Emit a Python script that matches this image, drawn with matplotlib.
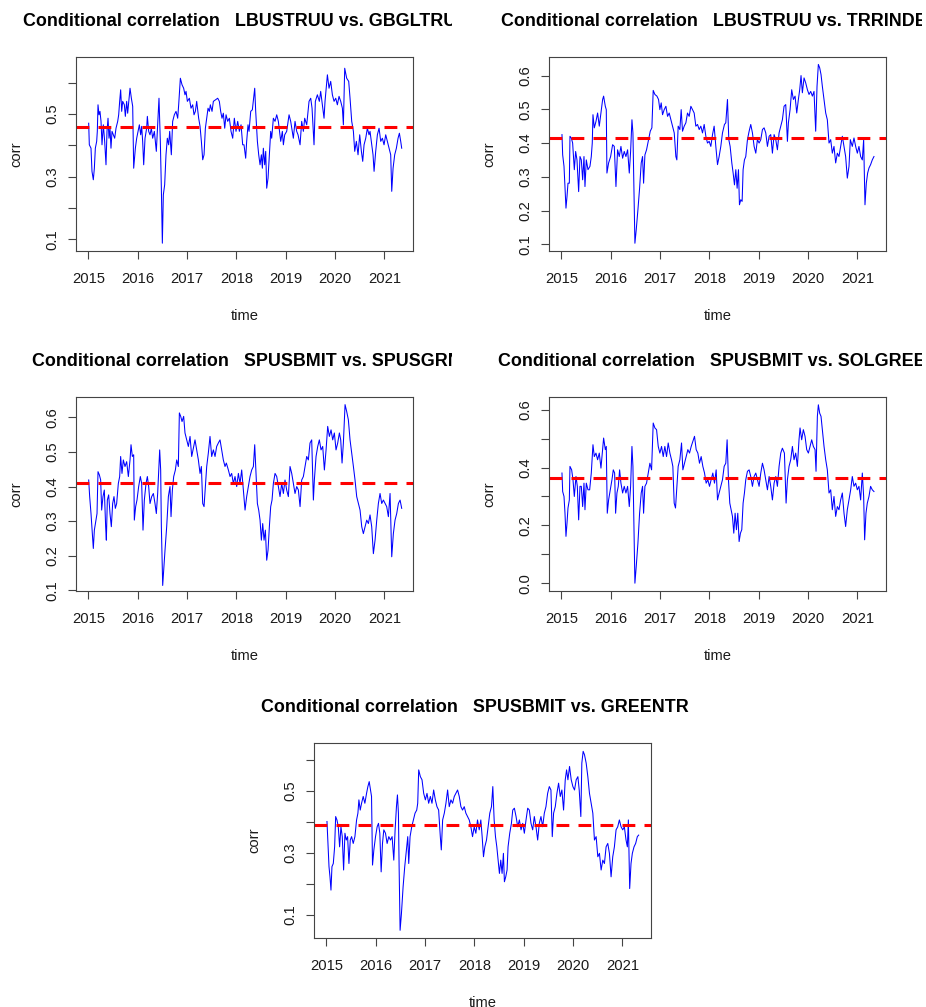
import numpy as np
import matplotlib
matplotlib.use("Agg")
import matplotlib.pyplot as plt
from matplotlib.transforms import Bbox, ScaledTranslation

plt.rcParams['font.family'] = ['Liberation Sans', 'DejaVu Sans']

# ---------------- data ----------------
titles = [
    "Conditional correlation   LBUSTRUU vs. GBGLTRUU",
    "Conditional correlation   LBUSTRUU vs. TRRINDEX",
    "Conditional correlation   SPUSBMIT vs. SPUSGRN",
    "Conditional correlation   SPUSBMIT vs. SOLGREEN",
    "Conditional correlation   SPUSBMIT vs. GREENTR",
]

# panel 1: LBUSTRUU vs. GBGLTRUU (decimal years, correlation)
time_lbus_gbgl = [
    2015.007, 2015.020, 2015.054, 2015.074, 2015.101, 2015.122, 2015.142, 2015.169, 2015.182, 2015.196,
    2015.216, 2015.236, 2015.257, 2015.277, 2015.304, 2015.331, 2015.358, 2015.378, 2015.399, 2015.419,
    2015.439, 2015.459, 2015.480, 2015.507, 2015.534, 2015.561, 2015.595, 2015.615, 2015.635, 2015.655,
    2015.676, 2015.696, 2015.730, 2015.750, 2015.777, 2015.797, 2015.845, 2015.872, 2015.899, 2015.919,
    2015.953, 2015.980, 2016.007, 2016.034, 2016.061, 2016.081, 2016.101, 2016.122, 2016.149, 2016.182,
    2016.196, 2016.223, 2016.250, 2016.277, 2016.304, 2016.338, 2016.358, 2016.378, 2016.399, 2016.432,
    2016.459, 2016.480, 2016.500, 2016.520, 2016.547, 2016.574, 2016.601, 2016.628, 2016.649, 2016.682,
    2016.709, 2016.743, 2016.777, 2016.811, 2016.831, 2016.865, 2016.899, 2016.932, 2016.959, 2016.980,
    2017.007, 2017.047, 2017.081, 2017.115, 2017.142, 2017.169, 2017.196, 2017.236, 2017.264, 2017.291,
    2017.318, 2017.345, 2017.372, 2017.399, 2017.426, 2017.453, 2017.473, 2017.507, 2017.534, 2017.622,
    2017.655, 2017.682, 2017.709, 2017.736, 2017.764, 2017.791, 2017.824, 2017.858, 2017.892, 2017.926,
    2017.959, 2017.993, 2018.027, 2018.061, 2018.095, 2018.128, 2018.155, 2018.189, 2018.209, 2018.236,
    2018.257, 2018.291, 2018.324, 2018.372, 2018.392, 2018.426, 2018.453, 2018.480, 2018.507, 2018.527,
    2018.547, 2018.574, 2018.595, 2018.615, 2018.642, 2018.669, 2018.696, 2018.716, 2018.750, 2018.784,
    2018.818, 2018.851, 2018.899, 2018.932, 2018.953, 2018.980, 2019.020, 2019.068, 2019.101, 2019.155,
    2019.189, 2019.223, 2019.250, 2019.291, 2019.324, 2019.358, 2019.385, 2019.426, 2019.473, 2019.507,
    2019.534, 2019.574, 2019.601, 2019.642, 2019.682, 2019.709, 2019.777, 2019.797, 2019.845, 2019.878,
    2019.912, 2019.946, 2019.980, 2020.014, 2020.047, 2020.081, 2020.115, 2020.149, 2020.169, 2020.196,
    2020.236, 2020.277, 2020.304, 2020.338, 2020.372, 2020.399, 2020.432, 2020.466, 2020.500, 2020.534,
    2020.561, 2020.588, 2020.622, 2020.655, 2020.689, 2020.709, 2020.743, 2020.770, 2020.791, 2020.824,
    2020.858, 2020.892, 2020.926, 2020.959, 2020.993, 2021.027, 2021.061, 2021.095, 2021.128, 2021.149,
    2021.176, 2021.209, 2021.243, 2021.277, 2021.304, 2021.331, 2021.351,
]
corr_lbus_gbgl = [
    0.471, 0.402, 0.391, 0.317, 0.290, 0.327, 0.391, 0.413, 0.445, 0.530,
    0.498, 0.509, 0.477, 0.402, 0.466, 0.413, 0.338, 0.445, 0.487, 0.423,
    0.455, 0.391, 0.445, 0.434, 0.423, 0.455, 0.477, 0.498, 0.541, 0.578,
    0.509, 0.541, 0.530, 0.493, 0.541, 0.503, 0.583, 0.551, 0.525, 0.327,
    0.391, 0.423, 0.445, 0.466, 0.434, 0.461, 0.413, 0.338, 0.423, 0.455,
    0.493, 0.445, 0.434, 0.455, 0.423, 0.445, 0.413, 0.381, 0.445, 0.551,
    0.413, 0.263, 0.087, 0.242, 0.274, 0.370, 0.423, 0.402, 0.445, 0.370,
    0.477, 0.498, 0.509, 0.487, 0.530, 0.615, 0.594, 0.583, 0.562, 0.573,
    0.541, 0.551, 0.519, 0.530, 0.498, 0.509, 0.541, 0.487, 0.461, 0.413,
    0.354, 0.370, 0.455, 0.487, 0.519, 0.509, 0.530, 0.509, 0.541, 0.551,
    0.541, 0.509, 0.487, 0.503, 0.455, 0.498, 0.477, 0.487, 0.445, 0.423,
    0.487, 0.445, 0.477, 0.445, 0.466, 0.402, 0.402, 0.359, 0.413, 0.466,
    0.445, 0.509, 0.514, 0.583, 0.509, 0.413, 0.370, 0.338, 0.370, 0.327,
    0.391, 0.338, 0.381, 0.263, 0.295, 0.370, 0.445, 0.423, 0.487, 0.477,
    0.498, 0.477, 0.413, 0.445, 0.402, 0.434, 0.445, 0.498, 0.477, 0.423,
    0.477, 0.445, 0.434, 0.402, 0.477, 0.445, 0.487, 0.466, 0.541, 0.551,
    0.519, 0.402, 0.541, 0.562, 0.541, 0.573, 0.487, 0.541, 0.626, 0.583,
    0.605, 0.562, 0.541, 0.551, 0.530, 0.557, 0.541, 0.519, 0.466, 0.647,
    0.615, 0.605, 0.551, 0.477, 0.445, 0.381, 0.413, 0.370, 0.434, 0.381,
    0.349, 0.402, 0.423, 0.455, 0.434, 0.445, 0.402, 0.370, 0.317, 0.381,
    0.434, 0.455, 0.413, 0.423, 0.402, 0.434, 0.413, 0.391, 0.370, 0.253,
    0.327, 0.370, 0.391, 0.423, 0.439, 0.413, 0.391,
]

# panels 2-5: (decimal year, correlation) readings
pts_lbus_trr = [
    (2015.013, 0.425), (2015.027, 0.365), (2015.054, 0.331), (2015.074, 0.271), (2015.094, 0.207),
    (2015.115, 0.242), (2015.135, 0.281), (2015.162, 0.281), (2015.175, 0.420), (2015.202, 0.415),
    (2015.229, 0.400), (2015.263, 0.321), (2015.290, 0.375), (2015.317, 0.350), (2015.351, 0.256),
    (2015.378, 0.360), (2015.405, 0.350), (2015.432, 0.291), (2015.459, 0.360), (2015.479, 0.271),
    (2015.506, 0.350), (2015.540, 0.321), (2015.580, 0.331), (2015.607, 0.360), (2015.627, 0.400),
    (2015.641, 0.484), (2015.668, 0.445), (2015.702, 0.464), (2015.735, 0.489), (2015.769, 0.450),
    (2015.803, 0.489), (2015.837, 0.529), (2015.857, 0.539), (2015.891, 0.509), (2015.911, 0.499),
    (2015.924, 0.311), (2015.958, 0.341), (2015.999, 0.360), (2016.039, 0.395), (2016.073, 0.390),
    (2016.107, 0.271), (2016.140, 0.380), (2016.174, 0.360), (2016.208, 0.390), (2016.242, 0.355),
    (2016.275, 0.375), (2016.309, 0.360), (2016.343, 0.380), (2016.377, 0.311), (2016.404, 0.375),
    (2016.431, 0.469), (2016.451, 0.430), (2016.471, 0.271), (2016.491, 0.103), (2016.518, 0.143),
    (2016.552, 0.202), (2016.586, 0.266), (2016.619, 0.341), (2016.646, 0.360), (2016.667, 0.281),
    (2016.694, 0.365), (2016.727, 0.380), (2016.768, 0.410), (2016.802, 0.435), (2016.835, 0.445),
    (2016.862, 0.556), (2016.896, 0.544), (2016.937, 0.539), (2016.970, 0.529), (2016.997, 0.499),
    (2017.024, 0.519), (2017.051, 0.484), (2017.085, 0.499), (2017.119, 0.509), (2017.153, 0.479),
    (2017.186, 0.489), (2017.220, 0.469), (2017.254, 0.450), (2017.288, 0.430), (2017.321, 0.360),
    (2017.341, 0.350), (2017.368, 0.450), (2017.402, 0.440), (2017.429, 0.499), (2017.456, 0.435),
    (2017.490, 0.450), (2017.524, 0.460), (2017.557, 0.489), (2017.591, 0.479), (2017.625, 0.509),
    (2017.658, 0.499), (2017.692, 0.489), (2017.726, 0.450), (2017.760, 0.455), (2017.794, 0.440),
    (2017.827, 0.450), (2017.861, 0.430), (2017.895, 0.455), (2017.929, 0.420), (2017.962, 0.400),
    (2017.996, 0.405), (2018.030, 0.390), (2018.064, 0.425), (2018.097, 0.450), (2018.131, 0.390),
    (2018.165, 0.336), (2018.198, 0.360), (2018.232, 0.390), (2018.266, 0.430), (2018.306, 0.455),
    (2018.333, 0.460), (2018.367, 0.529), (2018.394, 0.410), (2018.421, 0.390), (2018.455, 0.341),
    (2018.482, 0.311), (2018.509, 0.276), (2018.536, 0.321), (2018.563, 0.266), (2018.590, 0.321),
    (2018.610, 0.217), (2018.637, 0.232), (2018.664, 0.227), (2018.684, 0.321), (2018.711, 0.350),
    (2018.738, 0.360), (2018.772, 0.410), (2018.806, 0.435), (2018.839, 0.455), (2018.873, 0.430),
    (2018.907, 0.390), (2018.941, 0.370), (2018.974, 0.410), (2019.008, 0.400), (2019.042, 0.410),
    (2019.076, 0.440), (2019.109, 0.445), (2019.143, 0.430), (2019.177, 0.390), (2019.211, 0.420),
    (2019.244, 0.425), (2019.278, 0.370), (2019.312, 0.425), (2019.346, 0.410), (2019.379, 0.380),
    (2019.413, 0.430), (2019.447, 0.450), (2019.480, 0.469), (2019.514, 0.509), (2019.548, 0.514),
    (2019.582, 0.405), (2019.602, 0.460), (2019.636, 0.499), (2019.669, 0.558), (2019.703, 0.529),
    (2019.737, 0.539), (2019.771, 0.489), (2019.804, 0.529), (2019.831, 0.558), (2019.858, 0.600),
    (2019.885, 0.549), (2019.919, 0.593), (2019.953, 0.578), (2019.987, 0.558), (2020.020, 0.544),
    (2020.054, 0.553), (2020.088, 0.539), (2020.121, 0.553), (2020.155, 0.435), (2020.182, 0.568),
    (2020.209, 0.633), (2020.236, 0.623), (2020.263, 0.603), (2020.290, 0.568), (2020.324, 0.529),
    (2020.358, 0.489), (2020.391, 0.469), (2020.425, 0.400), (2020.459, 0.410), (2020.492, 0.370),
    (2020.526, 0.390), (2020.560, 0.341), (2020.594, 0.370), (2020.627, 0.360), (2020.661, 0.390),
    (2020.695, 0.420), (2020.729, 0.390), (2020.762, 0.360), (2020.796, 0.296), (2020.830, 0.331),
    (2020.857, 0.410), (2020.897, 0.390), (2020.931, 0.415), (2020.965, 0.390), (2020.999, 0.370),
    (2021.032, 0.390), (2021.066, 0.360), (2021.100, 0.350), (2021.127, 0.410), (2021.154, 0.217),
    (2021.181, 0.281), (2021.208, 0.311), (2021.235, 0.326), (2021.268, 0.336), (2021.302, 0.350),
    (2021.336, 0.360),
]

pts_spus_spusgrn = [
    (2015.007, 0.419), (2015.027, 0.371), (2015.054, 0.322), (2015.081, 0.264), (2015.101, 0.221),
    (2015.122, 0.274), (2015.149, 0.298), (2015.176, 0.322), (2015.196, 0.443), (2015.223, 0.434),
    (2015.250, 0.419), (2015.270, 0.332), (2015.297, 0.371), (2015.324, 0.390), (2015.351, 0.284),
    (2015.365, 0.245), (2015.385, 0.361), (2015.412, 0.376), (2015.439, 0.322), (2015.466, 0.284),
    (2015.493, 0.351), (2015.520, 0.371), (2015.547, 0.337), (2015.574, 0.351), (2015.608, 0.409),
    (2015.635, 0.429), (2015.655, 0.487), (2015.682, 0.438), (2015.709, 0.477), (2015.743, 0.458),
    (2015.777, 0.472), (2015.811, 0.429), (2015.845, 0.477), (2015.865, 0.521), (2015.892, 0.487),
    (2015.919, 0.492), (2015.932, 0.303), (2015.959, 0.342), (2015.986, 0.361), (2016.020, 0.400),
    (2016.054, 0.429), (2016.081, 0.409), (2016.108, 0.274), (2016.135, 0.361), (2016.169, 0.409),
    (2016.196, 0.429), (2016.223, 0.400), (2016.250, 0.351), (2016.284, 0.371), (2016.318, 0.380),
    (2016.351, 0.351), (2016.378, 0.322), (2016.405, 0.380), (2016.426, 0.448), (2016.446, 0.506),
    (2016.466, 0.448), (2016.480, 0.284), (2016.507, 0.114), (2016.527, 0.158), (2016.554, 0.216),
    (2016.588, 0.284), (2016.622, 0.371), (2016.655, 0.400), (2016.676, 0.313), (2016.703, 0.390),
    (2016.730, 0.429), (2016.764, 0.448), (2016.791, 0.477), (2016.824, 0.458), (2016.845, 0.613),
    (2016.872, 0.603), (2016.899, 0.588), (2016.932, 0.603), (2016.959, 0.555), (2016.993, 0.535),
    (2017.027, 0.516), (2017.061, 0.545), (2017.095, 0.487), (2017.128, 0.511), (2017.162, 0.535),
    (2017.196, 0.506), (2017.230, 0.477), (2017.264, 0.438), (2017.291, 0.458), (2017.318, 0.351),
    (2017.345, 0.342), (2017.372, 0.400), (2017.399, 0.458), (2017.432, 0.497), (2017.466, 0.545),
    (2017.500, 0.487), (2017.534, 0.506), (2017.568, 0.487), (2017.601, 0.516), (2017.635, 0.526),
    (2017.669, 0.535), (2017.703, 0.506), (2017.736, 0.477), (2017.770, 0.458), (2017.797, 0.468),
    (2017.838, 0.448), (2017.872, 0.429), (2017.905, 0.438), (2017.939, 0.409), (2017.973, 0.429),
    (2018.007, 0.400), (2018.041, 0.438), (2018.074, 0.409), (2018.108, 0.448), (2018.142, 0.390),
    (2018.176, 0.332), (2018.209, 0.371), (2018.243, 0.400), (2018.277, 0.429), (2018.311, 0.448),
    (2018.345, 0.458), (2018.372, 0.521), (2018.399, 0.438), (2018.426, 0.351), (2018.453, 0.332),
    (2018.480, 0.303), (2018.507, 0.245), (2018.534, 0.293), (2018.561, 0.245), (2018.588, 0.274),
    (2018.615, 0.187), (2018.642, 0.216), (2018.669, 0.284), (2018.696, 0.342), (2018.723, 0.361),
    (2018.750, 0.409), (2018.784, 0.438), (2018.818, 0.429), (2018.851, 0.400), (2018.885, 0.371),
    (2018.919, 0.409), (2018.953, 0.380), (2018.986, 0.419), (2019.020, 0.390), (2019.054, 0.371),
    (2019.088, 0.458), (2019.122, 0.438), (2019.155, 0.409), (2019.189, 0.380), (2019.223, 0.400),
    (2019.257, 0.390), (2019.291, 0.342), (2019.324, 0.419), (2019.358, 0.429), (2019.392, 0.458),
    (2019.426, 0.487), (2019.459, 0.477), (2019.493, 0.526), (2019.527, 0.535), (2019.561, 0.361),
    (2019.581, 0.419), (2019.615, 0.487), (2019.649, 0.516), (2019.682, 0.535), (2019.716, 0.506),
    (2019.750, 0.516), (2019.784, 0.448), (2019.818, 0.506), (2019.851, 0.574), (2019.885, 0.545),
    (2019.919, 0.564), (2019.953, 0.535), (2019.986, 0.555), (2020.020, 0.506), (2020.054, 0.526),
    (2020.088, 0.555), (2020.115, 0.535), (2020.142, 0.468), (2020.169, 0.526), (2020.203, 0.637),
    (2020.236, 0.617), (2020.270, 0.593), (2020.304, 0.535), (2020.338, 0.497), (2020.372, 0.458),
    (2020.405, 0.419), (2020.439, 0.371), (2020.473, 0.351), (2020.507, 0.332), (2020.541, 0.284),
    (2020.574, 0.264), (2020.608, 0.284), (2020.642, 0.303), (2020.676, 0.293), (2020.709, 0.318),
    (2020.743, 0.284), (2020.777, 0.206), (2020.811, 0.245), (2020.845, 0.303), (2020.878, 0.351),
    (2020.912, 0.380), (2020.946, 0.351), (2020.980, 0.361), (2021.014, 0.351), (2021.047, 0.342),
    (2021.081, 0.313), (2021.115, 0.380), (2021.149, 0.197), (2021.182, 0.264), (2021.216, 0.303),
    (2021.250, 0.322), (2021.284, 0.351), (2021.318, 0.361), (2021.351, 0.337),
]

pts_spus_solgreen = [
    (2015.013, 0.381), (2015.027, 0.317), (2015.054, 0.300), (2015.074, 0.242), (2015.094, 0.162),
    (2015.115, 0.208), (2015.135, 0.260), (2015.162, 0.288), (2015.175, 0.404), (2015.209, 0.392),
    (2015.236, 0.358), (2015.263, 0.300), (2015.297, 0.369), (2015.324, 0.335), (2015.351, 0.219),
    (2015.378, 0.335), (2015.405, 0.335), (2015.432, 0.265), (2015.459, 0.346), (2015.479, 0.254),
    (2015.506, 0.346), (2015.540, 0.323), (2015.574, 0.323), (2015.607, 0.381), (2015.641, 0.479),
    (2015.668, 0.438), (2015.702, 0.450), (2015.735, 0.427), (2015.769, 0.450), (2015.803, 0.398),
    (2015.837, 0.462), (2015.857, 0.502), (2015.891, 0.462), (2015.911, 0.473), (2015.931, 0.242),
    (2015.958, 0.288), (2015.992, 0.323), (2016.026, 0.358), (2016.053, 0.392), (2016.080, 0.381),
    (2016.100, 0.242), (2016.127, 0.312), (2016.154, 0.335), (2016.181, 0.392), (2016.208, 0.346),
    (2016.242, 0.312), (2016.275, 0.335), (2016.309, 0.312), (2016.343, 0.335), (2016.377, 0.265),
    (2016.404, 0.335), (2016.431, 0.473), (2016.451, 0.404), (2016.471, 0.196), (2016.491, 0.000),
    (2016.518, 0.058), (2016.552, 0.138), (2016.586, 0.242), (2016.619, 0.312), (2016.646, 0.335),
    (2016.667, 0.242), (2016.694, 0.335), (2016.727, 0.346), (2016.761, 0.381), (2016.795, 0.415),
    (2016.829, 0.392), (2016.862, 0.554), (2016.896, 0.537), (2016.930, 0.531), (2016.964, 0.473),
    (2016.997, 0.450), (2017.031, 0.473), (2017.065, 0.438), (2017.098, 0.473), (2017.132, 0.438),
    (2017.166, 0.485), (2017.200, 0.450), (2017.233, 0.427), (2017.260, 0.404), (2017.287, 0.277),
    (2017.314, 0.260), (2017.341, 0.335), (2017.368, 0.404), (2017.402, 0.427), (2017.436, 0.485),
    (2017.463, 0.392), (2017.497, 0.415), (2017.530, 0.438), (2017.564, 0.462), (2017.598, 0.450),
    (2017.632, 0.473), (2017.665, 0.490), (2017.699, 0.508), (2017.733, 0.462), (2017.767, 0.450),
    (2017.800, 0.415), (2017.834, 0.438), (2017.868, 0.404), (2017.902, 0.381), (2017.935, 0.346),
    (2017.969, 0.358), (2018.003, 0.335), (2018.036, 0.358), (2018.070, 0.381), (2018.104, 0.346),
    (2018.138, 0.392), (2018.165, 0.288), (2018.198, 0.312), (2018.232, 0.335), (2018.266, 0.358),
    (2018.300, 0.404), (2018.333, 0.415), (2018.360, 0.496), (2018.387, 0.358), (2018.414, 0.277),
    (2018.441, 0.254), (2018.468, 0.231), (2018.495, 0.173), (2018.522, 0.242), (2018.549, 0.185),
    (2018.576, 0.242), (2018.603, 0.144), (2018.630, 0.173), (2018.657, 0.185), (2018.684, 0.277),
    (2018.711, 0.312), (2018.738, 0.358), (2018.772, 0.387), (2018.806, 0.392), (2018.839, 0.369),
    (2018.873, 0.335), (2018.907, 0.369), (2018.941, 0.381), (2018.974, 0.358), (2019.008, 0.335),
    (2019.042, 0.381), (2019.076, 0.415), (2019.109, 0.392), (2019.143, 0.358), (2019.177, 0.323),
    (2019.211, 0.369), (2019.244, 0.335), (2019.278, 0.288), (2019.312, 0.346), (2019.346, 0.369),
    (2019.379, 0.335), (2019.413, 0.404), (2019.447, 0.450), (2019.480, 0.467), (2019.521, 0.450),
    (2019.555, 0.277), (2019.582, 0.358), (2019.615, 0.404), (2019.649, 0.427), (2019.683, 0.473),
    (2019.716, 0.427), (2019.750, 0.450), (2019.784, 0.404), (2019.817, 0.496), (2019.838, 0.537),
    (2019.871, 0.496), (2019.905, 0.531), (2019.939, 0.508), (2019.973, 0.462), (2020.007, 0.450),
    (2020.040, 0.473), (2020.074, 0.496), (2020.108, 0.473), (2020.142, 0.462), (2020.162, 0.387),
    (2020.189, 0.577), (2020.209, 0.617), (2020.236, 0.588), (2020.263, 0.577), (2020.290, 0.531),
    (2020.324, 0.473), (2020.358, 0.427), (2020.391, 0.392), (2020.425, 0.312), (2020.459, 0.323),
    (2020.492, 0.254), (2020.526, 0.300), (2020.560, 0.231), (2020.594, 0.265), (2020.627, 0.254),
    (2020.661, 0.288), (2020.695, 0.312), (2020.729, 0.242), (2020.762, 0.196), (2020.796, 0.254),
    (2020.830, 0.288), (2020.864, 0.323), (2020.897, 0.369), (2020.931, 0.335), (2020.965, 0.346),
    (2020.999, 0.323), (2021.032, 0.335), (2021.066, 0.288), (2021.100, 0.381), (2021.127, 0.300),
    (2021.147, 0.150), (2021.174, 0.242), (2021.201, 0.277), (2021.235, 0.300), (2021.268, 0.335),
    (2021.302, 0.323), (2021.336, 0.317),
]

pts_spus_greentr = [
    (2015.013, 0.401), (2015.034, 0.330), (2015.054, 0.255), (2015.074, 0.222), (2015.094, 0.179),
    (2015.114, 0.255), (2015.141, 0.265), (2015.168, 0.319), (2015.189, 0.417), (2015.215, 0.406),
    (2015.242, 0.384), (2015.269, 0.319), (2015.296, 0.384), (2015.323, 0.352), (2015.350, 0.244),
    (2015.377, 0.363), (2015.404, 0.341), (2015.431, 0.352), (2015.458, 0.265), (2015.485, 0.341),
    (2015.512, 0.352), (2015.545, 0.330), (2015.579, 0.352), (2015.613, 0.406), (2015.640, 0.428),
    (2015.660, 0.471), (2015.687, 0.438), (2015.714, 0.460), (2015.747, 0.482), (2015.781, 0.460),
    (2015.815, 0.492), (2015.842, 0.514), (2015.869, 0.530), (2015.896, 0.503), (2015.916, 0.482),
    (2015.936, 0.260), (2015.963, 0.309), (2015.997, 0.352), (2016.030, 0.384), (2016.057, 0.395),
    (2016.084, 0.363), (2016.111, 0.238), (2016.138, 0.330), (2016.165, 0.374), (2016.199, 0.363),
    (2016.232, 0.330), (2016.266, 0.352), (2016.300, 0.341), (2016.333, 0.352), (2016.367, 0.276),
    (2016.394, 0.374), (2016.421, 0.449), (2016.441, 0.487), (2016.461, 0.428), (2016.475, 0.255),
    (2016.495, 0.049), (2016.522, 0.103), (2016.556, 0.190), (2016.589, 0.255), (2016.623, 0.309),
    (2016.650, 0.352), (2016.670, 0.265), (2016.697, 0.352), (2016.731, 0.384), (2016.764, 0.406),
    (2016.798, 0.428), (2016.832, 0.438), (2016.852, 0.460), (2016.872, 0.568), (2016.906, 0.546),
    (2016.939, 0.536), (2016.973, 0.492), (2017.007, 0.471), (2017.040, 0.492), (2017.074, 0.460),
    (2017.108, 0.482), (2017.141, 0.460), (2017.175, 0.503), (2017.209, 0.471), (2017.242, 0.449),
    (2017.276, 0.438), (2017.310, 0.352), (2017.330, 0.309), (2017.357, 0.406), (2017.391, 0.428),
    (2017.424, 0.460), (2017.458, 0.503), (2017.491, 0.449), (2017.525, 0.471), (2017.559, 0.460),
    (2017.593, 0.482), (2017.626, 0.492), (2017.660, 0.503), (2017.694, 0.482), (2017.727, 0.449),
    (2017.761, 0.438), (2017.795, 0.449), (2017.828, 0.428), (2017.862, 0.417), (2017.896, 0.406),
    (2017.929, 0.384), (2017.963, 0.352), (2017.997, 0.384), (2018.030, 0.363), (2018.064, 0.406),
    (2018.098, 0.374), (2018.131, 0.406), (2018.158, 0.352), (2018.185, 0.287), (2018.212, 0.319),
    (2018.246, 0.341), (2018.279, 0.384), (2018.313, 0.428), (2018.347, 0.449), (2018.374, 0.514),
    (2018.401, 0.406), (2018.428, 0.352), (2018.455, 0.319), (2018.482, 0.276), (2018.508, 0.233),
    (2018.535, 0.276), (2018.562, 0.233), (2018.589, 0.298), (2018.609, 0.206), (2018.636, 0.222),
    (2018.663, 0.244), (2018.683, 0.319), (2018.717, 0.363), (2018.751, 0.395), (2018.778, 0.438),
    (2018.811, 0.444), (2018.845, 0.417), (2018.879, 0.384), (2018.912, 0.406), (2018.946, 0.374),
    (2018.980, 0.395), (2019.013, 0.363), (2019.047, 0.406), (2019.081, 0.444), (2019.114, 0.438),
    (2019.148, 0.395), (2019.182, 0.374), (2019.215, 0.417), (2019.249, 0.384), (2019.283, 0.341),
    (2019.316, 0.395), (2019.350, 0.417), (2019.384, 0.384), (2019.418, 0.428), (2019.451, 0.449),
    (2019.485, 0.492), (2019.519, 0.514), (2019.552, 0.503), (2019.579, 0.352), (2019.606, 0.428),
    (2019.640, 0.449), (2019.673, 0.492), (2019.707, 0.525), (2019.741, 0.482), (2019.774, 0.503),
    (2019.808, 0.438), (2019.842, 0.536), (2019.869, 0.568), (2019.896, 0.536), (2019.929, 0.579),
    (2019.963, 0.536), (2019.997, 0.514), (2020.030, 0.503), (2020.064, 0.536), (2020.098, 0.546),
    (2020.125, 0.503), (2020.158, 0.417), (2020.178, 0.590), (2020.205, 0.628), (2020.232, 0.617),
    (2020.266, 0.590), (2020.300, 0.546), (2020.333, 0.492), (2020.367, 0.460), (2020.401, 0.428),
    (2020.434, 0.341), (2020.468, 0.352), (2020.502, 0.287), (2020.535, 0.298), (2020.569, 0.244),
    (2020.603, 0.276), (2020.636, 0.265), (2020.670, 0.319), (2020.704, 0.330), (2020.737, 0.298),
    (2020.771, 0.222), (2020.805, 0.287), (2020.838, 0.319), (2020.872, 0.374), (2020.906, 0.384),
    (2020.939, 0.406), (2020.973, 0.384), (2021.007, 0.374), (2021.040, 0.384), (2021.074, 0.341),
    (2021.101, 0.319), (2021.121, 0.406), (2021.148, 0.184), (2021.175, 0.265), (2021.202, 0.298),
    (2021.236, 0.319), (2021.269, 0.330), (2021.303, 0.352), (2021.330, 0.357),
]

def unzip(pts):
    return [p[0] for p in pts], [p[1] for p in pts]

t2, c2 = unzip(pts_lbus_trr)
t3, c3 = unzip(pts_spus_spusgrn)
t4, c4 = unzip(pts_spus_solgreen)
t5, c5 = unzip(pts_spus_greentr)

times = [time_lbus_gbgl, t2, t3, t4, t5]
series = [corr_lbus_gbgl, c2, c3, c4, c5]
mean_corr = [0.458, 0.415, 0.41, 0.363, 0.39]

ylims = [(0.062, 0.683), (0.080, 0.655), (0.098, 0.659), (-0.027, 0.644), (0.024, 0.655)]
ytick_vals = [
    [0.1, 0.2, 0.3, 0.4, 0.5, 0.6],
    [0.1, 0.2, 0.3, 0.4, 0.5, 0.6],
    [0.1, 0.2, 0.3, 0.4, 0.5, 0.6],
    [0.0, 0.1, 0.2, 0.3, 0.4, 0.5, 0.6],
    [0.1, 0.2, 0.3, 0.4, 0.5, 0.6],
]
ytick_labels = [
    ["0.1", "", "0.3", "", "0.5", ""],
    ["0.1", "0.2", "0.3", "0.4", "0.5", "0.6"],
    ["0.1", "0.2", "0.3", "0.4", "0.5", "0.6"],
    ["0.0", "", "0.2", "", "0.4", "", "0.6"],
    ["0.1", "", "0.3", "", "0.5", ""],
]
xtick_years = [2015, 2016, 2017, 2018, 2019, 2020, 2021]

# ---------------- layout (pixels) ----------------
W, H = 926, 1007
boxes = [(76, 57, 413, 251), (549, 57, 886, 251),
         (76, 397, 413, 591), (549, 397, 886, 591),
         (314, 743, 651, 938)]
title_x = [23, 501, 32, 498, 261]
title_clip = [(0, 452), (463, 922), (0, 452), (463, 922), (0, 926)]

fig = plt.figure(figsize=(W / 100, H / 100), dpi=100)
fig.patch.set_facecolor('white')

edge = '#444444'
txtc = '#1a1a1a'

for k in range(5):
    l, t, r, b = boxes[k]
    ax = fig.add_axes([l / W, 1 - b / H, (r - l) / W, (b - t) / H])
    ax.plot(times[k], series[k], color='#0000FF', lw=0.75)
    ax.axhline(mean_corr[k], color='#FF0000', lw=2.2,
               linestyle=(0, (4.2, 3.0)), dash_capstyle='butt')
    ax.set_xlim(2014.75, 2021.58)
    ax.set_ylim(*ylims[k])
    ax.set_xticks(xtick_years)
    ax.set_xticklabels([str(y) for y in xtick_years])
    ax.set_yticks(ytick_vals[k])
    ax.set_yticklabels(ytick_labels[k])
    for s in ax.spines.values():
        s.set_color(edge)
        s.set_linewidth(0.8)
    ax.tick_params(axis='both', direction='out', length=5.8, width=0.8,
                   color=edge, labelsize=10.6, labelcolor=txtc)
    ax.tick_params(axis='x', pad=9.5)
    ax.tick_params(axis='y', pad=6.5, labelrotation=90)
    for lbl in ax.get_yticklabels():
        lbl.set_va('center')
    ax.text(0.5, 0, 'time', transform=ax.transAxes +
            ScaledTranslation(0, -65 / 100, fig.dpi_scale_trans),
            ha='center', va='center', fontsize=10.6, color=txtc)
    ax.text(0, 0.5, 'corr', rotation=90, transform=ax.transAxes +
            ScaledTranslation(-60 / 100, 0, fig.dpi_scale_trans),
            ha='center', va='center', fontsize=10.6, color=txtc)
    tt = fig.text(title_x[k] / W, 1 - (t - 35) / H, titles[k],
                  ha='left', va='center', fontsize=12.9, fontweight='bold',
                  color='black')
    c0, c1 = title_clip[k]
    tt.set_clip_on(True)
    tt.set_clip_box(Bbox.from_extents(c0, 0, c1, H))

fig.savefig('out.png', dpi=100)
